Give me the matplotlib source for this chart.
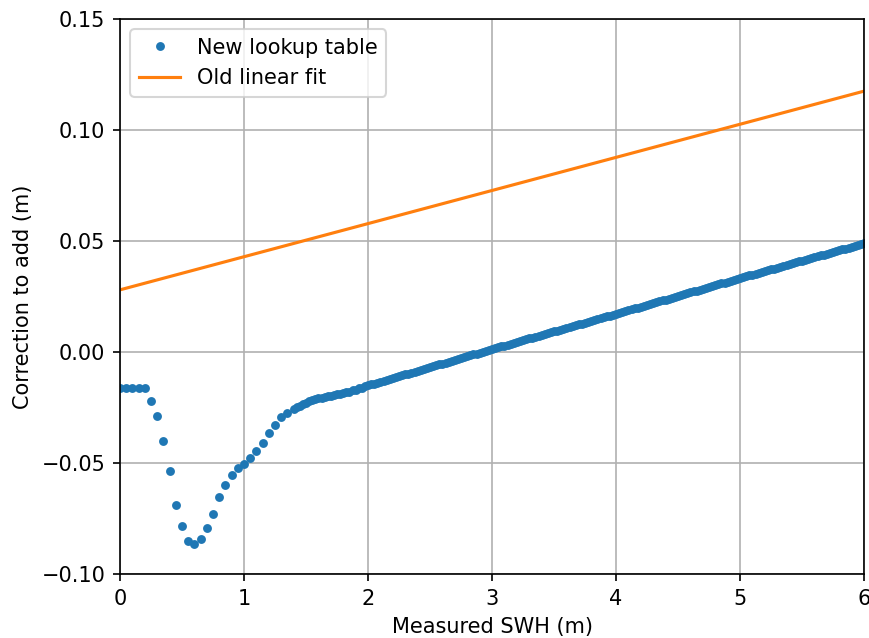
import numpy as np
import matplotlib
matplotlib.use("Agg")
import matplotlib.pyplot as plt

# Lookup table, coarse part: SWH 0.00 .. 1.40 m every 0.05 m
coarse_swh = np.round(np.arange(29) * 0.05, 3)
coarse_corr = [
    -0.0163, -0.0163, -0.0163, -0.0163, -0.0163, -0.0220, -0.0287, -0.0403, -0.0538, -0.0688,
    -0.0782, -0.0851, -0.0864, -0.0842, -0.0794, -0.0729, -0.0654, -0.0600, -0.0553, -0.0523,
    -0.0505, -0.0478, -0.0444, -0.0408, -0.0363, -0.0328, -0.0295, -0.0276, -0.0256,
]

# Lookup table, dense part: SWH 1.425 .. 6.00 m every 0.025 m
dense_swh = np.round(1.4 + np.arange(1, 185) * 0.025, 3)
dense_corr = [
    -0.0249, -0.0242, -0.0235, -0.0228, -0.0221, -0.0215, -0.0211, -0.0207, -0.0205, -0.0203,
    -0.0200, -0.0198, -0.0195, -0.0191, -0.0188, -0.0185, -0.0181, -0.0178, -0.0173, -0.0169,
    -0.0164, -0.0160, -0.0155, -0.0150,
    -0.0146, -0.0142, -0.0138, -0.0134, -0.0130, -0.0126, -0.0121, -0.0117, -0.0113, -0.0109,
    -0.0105, -0.0101, -0.0097, -0.0093, -0.0089, -0.0085, -0.0081, -0.0077, -0.0073, -0.0069,
    -0.0064, -0.0060, -0.0056, -0.0052, -0.0048, -0.0044, -0.0040, -0.0036, -0.0032, -0.0028,
    -0.0024, -0.0020, -0.0015, -0.0011, -0.0007, -0.0003, 0.0001, 0.0005, 0.0009, 0.0013,
    0.0017, 0.0021, 0.0025, 0.0029, 0.0033, 0.0037, 0.0041, 0.0045, 0.0049, 0.0053,
    0.0057, 0.0061, 0.0065, 0.0069, 0.0073, 0.0077, 0.0081, 0.0085, 0.0089, 0.0093,
    0.0096, 0.0100, 0.0104, 0.0108, 0.0112, 0.0116, 0.0120, 0.0124, 0.0128, 0.0132,
    0.0136, 0.0140, 0.0144, 0.0148, 0.0152, 0.0156, 0.0160, 0.0164, 0.0168, 0.0172,
    0.0176, 0.0180, 0.0184, 0.0188, 0.0192, 0.0196, 0.0200, 0.0204, 0.0208, 0.0212,
    0.0216, 0.0220, 0.0224, 0.0228, 0.0232, 0.0236, 0.0240, 0.0244, 0.0249, 0.0253,
    0.0257, 0.0261, 0.0265, 0.0269, 0.0273, 0.0277, 0.0281, 0.0285, 0.0289, 0.0293,
    0.0297, 0.0301, 0.0305, 0.0309, 0.0313, 0.0317, 0.0321, 0.0325, 0.0329, 0.0333,
    0.0337, 0.0341, 0.0345, 0.0349, 0.0353, 0.0357, 0.0360, 0.0364, 0.0368, 0.0372,
    0.0376, 0.0380, 0.0384, 0.0388, 0.0392, 0.0396, 0.0400, 0.0404, 0.0408, 0.0412,
    0.0415, 0.0419, 0.0423, 0.0427, 0.0431, 0.0435, 0.0439, 0.0443, 0.0447, 0.0451,
    0.0455, 0.0459, 0.0462, 0.0466, 0.0470, 0.0474, 0.0478, 0.0482, 0.0486, 0.0490,
]

swh = np.concatenate([coarse_swh, dense_swh])
lookup = np.concatenate([coarse_corr, dense_corr])

# Old linear fit endpoints
fit_x = [0.0, 6.0]
fit_y = [0.0280, 0.1175]

DPI = 150
fig = plt.figure(figsize=(869 / DPI, 638 / DPI), dpi=DPI)
ax = fig.add_axes([120 / 869, 1 - 574 / 638, (864 - 120) / 869, (574 - 19) / 638])

ax.plot(swh, lookup, '.', color='tab:blue', markersize=6.5, label='New lookup table')
ax.plot(fit_x, fit_y, '-', color='tab:orange', label='Old linear fit')

ax.set_xlim(0, 6)
ax.set_ylim(-0.10, 0.15)
ax.set_yticks([-0.10, -0.05, 0.00, 0.05, 0.10, 0.15])
ax.grid(True)
ax.set_xlabel('Measured SWH (m)')
ax.set_ylabel('Correction to add (m)')
ax.legend(loc='upper left')

fig.savefig('out.png', dpi=DPI)
